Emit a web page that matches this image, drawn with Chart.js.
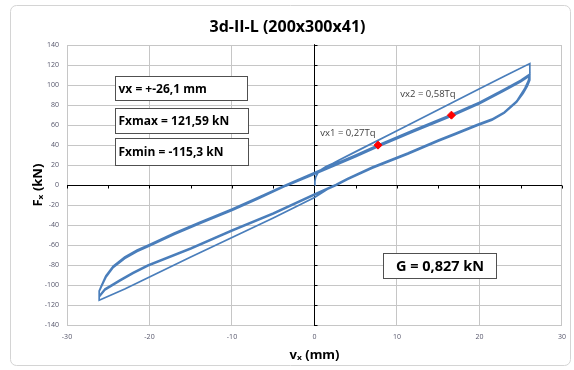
<!DOCTYPE html>
<html>
<head>
<meta charset="utf-8">
<script src="https://cdn.jsdelivr.net/npm/chart.js@4.4.1/dist/chart.umd.min.js"></script>
<style>
html, body { margin: 0; padding: 0; background: #fff; }
</style>
</head>
<body>
<canvas id="hystChart" width="574" height="370"></canvas>
<script>
// --- Data (displacement mm, force kN), in test order ---
const dispX = [
    // cycle 1, initial loading
    0, 0.05, 0.15, 0.4, 0.8, 1.4, 2.2, 3, 5, 10, 15, 20, 23, 26.1,
    26.1,
    // cycle 1, return
    25.9, 25.5, 24.5, 23, 21.5, 19.7, 17, 15, 11.3, 7, 4, 2.6, 2, 0, -5, -10, -15, -20, -23, -26.1,
    -26.1,
    // cycle 2
    -25.8, -25.3, -24.4, -23, -21.5, -20, -17, -14, -10, -7, -3.5, 0, 2, 5, 7.7, 12, 16.6, 20, 23, 25, 26.1,
    26.1,
    25.8, 25.3, 24.5, 23, 21.5, 19.7, 17, 15, 11.3, 7, 4, 2.6, 0, -5, -10, -15, -20.2, -22, -23.6, -24.5, -25.4, -26.1,
    -26.1,
    // cycle 3
    -25.8, -25.3, -24.4, -23, -21.5, -20, -17, -14, -10, -7, -3.5, 0, 2, 5, 7.7, 12, 16.6, 20, 23, 25, 26.1,
    26.1,
    25.8, 25.3, 24.5, 23, 21.5, 19.7, 17, 15, 11.3, 7, 4, 2.6, 0, -5, -10, -15, -20.2, -22, -23.6, -24.5, -25.4, -26.1
];
const forceY = [
    0, 4, 8, 12, 15.5, 18.5, 21.5, 25, 33.5, 54.5, 75.5, 96.5, 109, 121.6,
    110,
    104, 97, 84, 72, 65, 59.5, 50.5, 44, 31.5, 17.5, 6, 0.5, -2, -12.5, -33, -52.5, -72, -92, -104, -115.3,
    -106,
    -100, -91, -81, -72, -65, -59.5, -48, -37.5, -24, -13, 0, 12.5, 19.5, 30, 40, 55, 70.5, 83, 96, 105, 111,
    106,
    100, 93, 84, 73, 66, 60.5, 51.5, 45, 32, 18, 6.5, 0.5, -9, -28, -45, -63, -80, -87.5, -95, -99.5, -104, -111,
    -106.5,
    -101, -92.5, -82.5, -73.5, -66.5, -61, -49.5, -39, -25.5, -14.5, -1, 11, 18, 28.5, 38.5, 53.5, 69, 81.5, 94.5, 103.5, 109.5,
    105,
    99, 92, 83, 72, 65, 59.5, 50.5, 44, 31, 17, 5.5, -0.5, -10, -29, -46, -64, -81, -88.5, -96, -100.5, -105, -112
];

// red markers at vx1 / vx2
const markerX = [7.7, 16.6];
const markerY = [40, 70];
const markerLabels = ['vx1 = 0,27Tq', 'vx2 = 0,58Tq'];

// axes
const xTicks = [-30, -20, -10, 0, 10, 20, 30];
const yTicks = [-140, -120, -100, -80, -60, -40, -20, 0, 20, 40, 60, 80, 100, 120, 140];
const xAxisMarks = [-30, -25, -20, -15, -10, -5, 0, 5, 10, 15, 20, 25, 30];

// text boxes (placed in data units)
const infoBoxes = [
    { text: 'vx = +-26,1 mm', x0: -24.2, x1: -8.2, y0: 109, y1: 85, size: 12 },
    { text: 'Fxmax = 121,59 kN', x0: -24.2, x1: -8.1, y0: 77, y1: 52, size: 12 },
    { text: 'Fxmin = -115,3 kN', x0: -24.2, x1: -8.1, y0: 47, y1: 20, size: 12 },
    { text: 'G = 0,827 kN', x0: 8.3, x1: 22, y0: -68, y1: -93, size: 14.5 }
];
const labelPos = [[0.7, 52], [10.4, 91]];

// Outer chart frame
const framePlugin = {
    id: 'frame',
    beforeDraw(chart) {
        const { ctx } = chart;
        ctx.save();
        ctx.fillStyle = '#fff';
        ctx.fillRect(0, 0, chart.width, chart.height);
        ctx.strokeStyle = '#d4d4d4';
        ctx.lineWidth = 1;
        ctx.beginPath();
        ctx.roundRect(10.5, 5.5, 560, 360, 6);
        ctx.stroke();
        ctx.restore();
    }
};

// Black axes crossing at zero, with small tick marks
const zeroAxesPlugin = {
    id: 'zeroAxes',
    beforeDatasetsDraw(chart) {
        const { ctx, chartArea: a, scales: { x, y } } = chart;
        const x0 = Math.round(x.getPixelForValue(0)) + 0.5;
        const y0 = Math.round(y.getPixelForValue(0)) + 0.5;
        ctx.save();
        ctx.strokeStyle = '#000';
        ctx.lineWidth = 1;
        ctx.beginPath();
        ctx.moveTo(a.left, y0);
        ctx.lineTo(a.right, y0);
        ctx.moveTo(x0, a.top - 1);
        ctx.lineTo(x0, a.bottom + 1);
        xAxisMarks.forEach(v => {
            const px = Math.round(x.getPixelForValue(v)) + 0.5;
            ctx.moveTo(px, y0);
            ctx.lineTo(px, y0 + 3);
        });
        yTicks.forEach(v => {
            const py = Math.round(y.getPixelForValue(v)) + 0.5;
            ctx.moveTo(x0, py);
            ctx.lineTo(x0 + 3, py);
        });
        ctx.stroke();
        ctx.restore();
    }
};

// Text boxes and marker labels
const notesPlugin = {
    id: 'notes',
    afterDatasetsDraw(chart) {
        const { ctx, scales: { x, y } } = chart;
        ctx.save();
        infoBoxes.forEach(b => {
            const l = Math.round(x.getPixelForValue(b.x0)) + 0.5;
            const r = Math.round(x.getPixelForValue(b.x1)) + 0.5;
            const t = Math.round(y.getPixelForValue(b.y0)) + 0.5;
            const btm = Math.round(y.getPixelForValue(b.y1)) + 0.5;
            ctx.fillStyle = '#fff';
            ctx.fillRect(l, t, r - l, btm - t);
            ctx.strokeStyle = '#505050';
            ctx.lineWidth = 1;
            ctx.strokeRect(l, t, r - l, btm - t);
            ctx.fillStyle = '#000';
            ctx.font = 'bold ' + b.size + 'px "Open Sans"';
            ctx.textBaseline = 'middle';
            ctx.textAlign = b.size > 13 ? 'center' : 'left';
            const tx = b.size > 13 ? (l + r) / 2 : l + 3;
            ctx.fillText(b.text, tx, (t + btm) / 2 + 1);
        });
        ctx.font = '9.5px "Open Sans"';
        ctx.fillStyle = '#404040';
        ctx.textAlign = 'left';
        ctx.textBaseline = 'middle';
        markerLabels.forEach((txt, i) => {
            ctx.fillText(txt, x.getPixelForValue(labelPos[i][0]), y.getPixelForValue(labelPos[i][1]));
        });
        ctx.restore();
    }
};

const tickFont = { family: '"Open Sans"', size: 7 };
const titleFont = { family: '"Noto Sans", "DejaVu Sans", sans-serif', size: 13, weight: 'bold' };

new Chart(document.getElementById('hystChart'), {
    type: 'scatter',
    data: {
        datasets: [{
            label: 'Fx',
            data: dispX.map((v, i) => ({ x: v, y: forceY[i] })),
            showLine: true,
            borderColor: '#4a7ebb',
            borderWidth: 1.7,
            pointRadius: 0,
            tension: 0,
            order: 2
        }, {
            label: 'vx points',
            data: markerX.map((v, i) => ({ x: v, y: markerY[i] })),
            showLine: false,
            pointStyle: 'rectRot',
            pointRadius: 4,
            backgroundColor: '#ff0000',
            borderColor: '#ff0000',
            order: 1
        }]
    },
    options: {
        responsive: false,
        animation: false,
        devicePixelRatio: 1,
        layout: { padding: { left: 10, right: 9, top: 0, bottom: 0 } },
        plugins: {
            legend: { display: false },
            tooltip: { enabled: false },
            title: {
                display: true,
                text: '3d-II-L (200x300x41)',
                color: '#000',
                font: { family: '"Open Sans"', size: 16, weight: 'bold' },
                padding: { top: 18, bottom: 8 }
            }
        },
        scales: {
            x: {
                type: 'linear',
                min: -30,
                max: 30,
                afterBuildTicks: s => { s.ticks = xTicks.map(v => ({ value: v })); },
                afterFit: s => { s.height = 45; },
                grid: { color: '#c6c6c6', drawTicks: false },
                border: { display: false },
                ticks: { color: '#55556a', font: tickFont, padding: 8 },
                title: { display: true, text: 'vₓ (mm)', color: '#000', font: titleFont, padding: { top: 0, bottom: 7 } }
            },
            y: {
                type: 'linear',
                min: -140,
                max: 140,
                afterBuildTicks: s => { s.ticks = yTicks.map(v => ({ value: v })); },
                afterFit: s => { s.width = 57; },
                grid: { color: '#c6c6c6', drawTicks: false },
                border: { display: false },
                ticks: { color: '#55556a', font: tickFont, padding: 8 },
                title: { display: true, text: 'Fₓ (kN)', color: '#000', font: titleFont, padding: { top: 20, bottom: 0 } }
            }
        }
    },
    plugins: [framePlugin, zeroAxesPlugin, notesPlugin]
});
</script>
</body>
</html>
